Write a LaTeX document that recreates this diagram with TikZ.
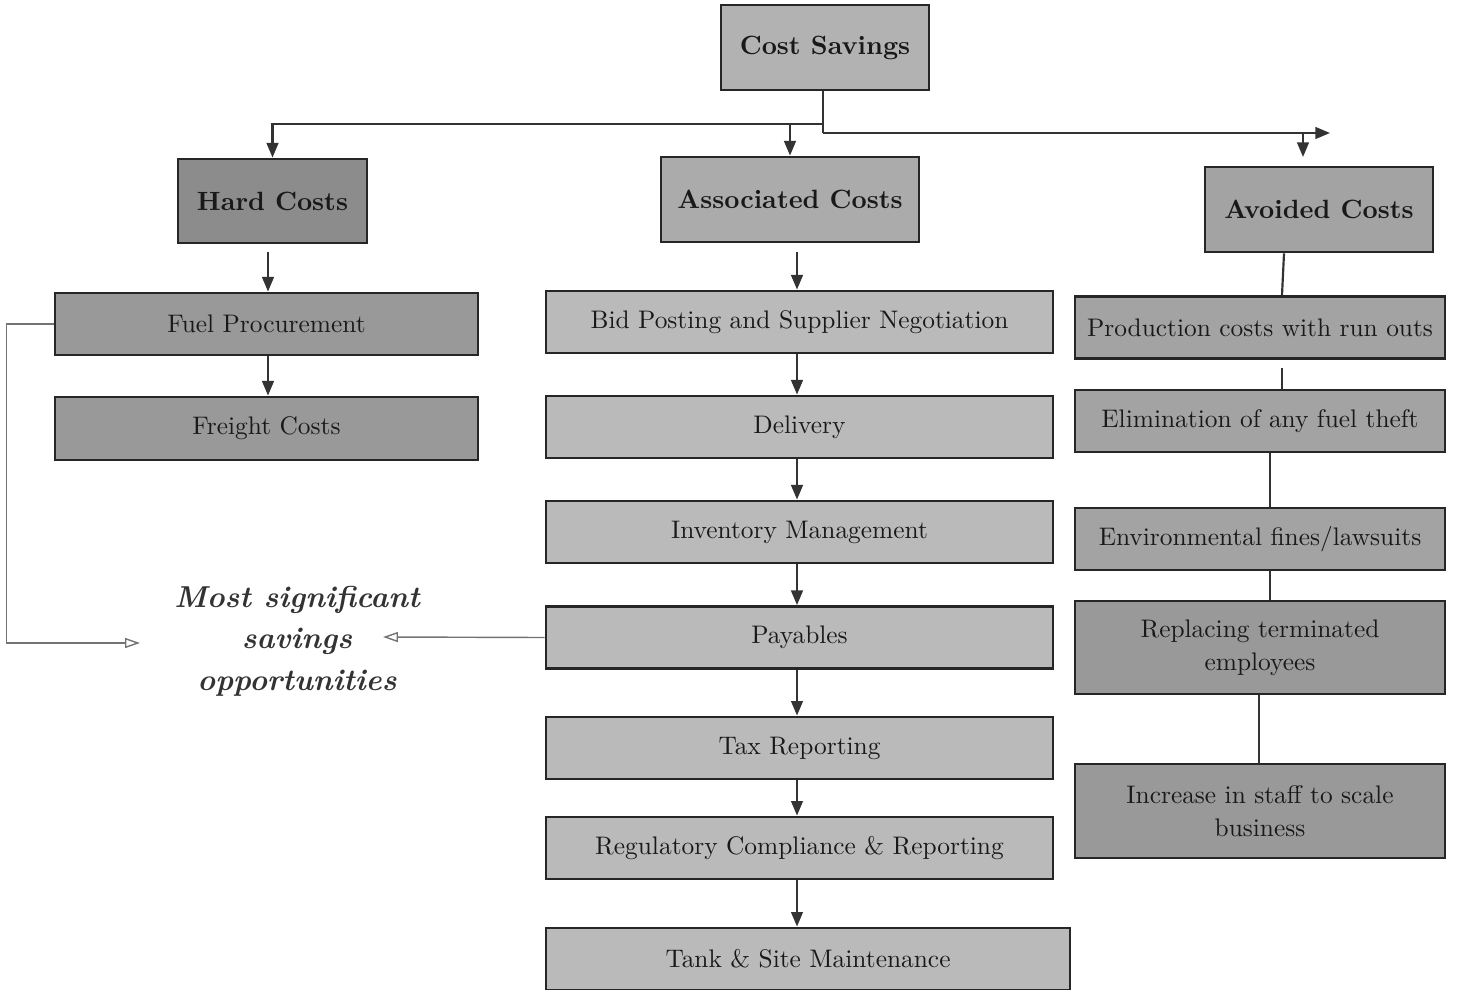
\documentclass[tikz,border=0pt]{standalone}
\usetikzlibrary{arrows.meta}
\newdimen\pxu
\pxu=0.0137cm
\begin{document}
\begin{tikzpicture}[x=0.0137cm,y=-0.0137cm,
  box/.style={draw=black!85, line width=1.1pt, rectangle, inner sep=0pt, align=center,
    text=black!90, font=\fontsize{9.9pt}{12.9pt}\selectfont},
  head/.style={box, font=\fontsize{10.3pt}{13pt}\selectfont\bfseries},
  arr/.style={draw=black!80, line width=0.85pt, -{Triangle[width=0.16cm,length=0.2cm]}},
  ln/.style={draw=black!80, line width=0.85pt},
  fb/.style={draw=black!55, line width=0.55pt, -{Triangle[open,width=0.137cm,length=0.205cm]}},
  note/.style={align=center, text=black!80, font=\fontsize{11.8pt}{16.2pt}\selectfont\bfseries\itshape}]
\useasboundingbox (0,0) rectangle (1461,990);
% top
\node[head, fill=black!30, minimum width=208\pxu, minimum height=85\pxu] (cs) at (825,47.5) {Cost Savings};
\node[head, fill=black!45, minimum width=189\pxu, minimum height=84\pxu] (hard) at (272.5,201) {Hard Costs};
\node[head, fill=black!33, minimum width=258\pxu, minimum height=85\pxu] (assoc) at (790,199.5) {Associated Costs};
\node[head, fill=black!36, minimum width=228\pxu, minimum height=85\pxu] (avoid) at (1319,209.5) {Avoided Costs};
% hard column
\node[box, fill=black!40, minimum width=423\pxu, minimum height=62\pxu] (fuel) at (266.5,324) {Fuel Procurement};
\node[box, fill=black!40, minimum width=423\pxu, minimum height=63\pxu] (freight) at (266.5,428.5) {Freight Costs};
% associated column
\tikzset{mid/.style={box, fill=black!27, minimum width=507\pxu, minimum height=62\pxu}}
\node[mid] (bid) at (799.5,322) {Bid Posting and Supplier Negotiation};
\node[mid] (deliv) at (799.5,427) {Delivery};
\node[mid] (inv) at (799.5,532) {Inventory Management};
\node[mid] (pay) at (799.5,637.5) {Payables};
\node[mid] (tax) at (799.5,748) {Tax Reporting};
\node[mid] (reg) at (799.5,848) {Regulatory Compliance \& Reporting};
\node[mid, minimum width=524\pxu] (tank) at (808,959) {Tank \& Site Maintenance};
% avoided column
\tikzset{rgt/.style={box, fill=black!36, minimum width=370\pxu, minimum height=62\pxu}}
\node[rgt] (prod) at (1260,327.5) {Production costs with run outs};
\node[rgt] (elim) at (1260,421) {Elimination of any fuel theft};
\node[rgt] (env) at (1260,539) {Environmental fines/lawsuits};
\node[rgt, fill=black!40, minimum height=93\pxu] (repl) at (1260,647.5) {Replacing terminated\\employees};
\node[rgt, fill=black!40, minimum height=94\pxu] (incr) at (1260,811) {Increase in staff to scale\\business};
% note
\node[note] (msg) at (297,641) {Most significant\\savings\\opportunities};
% top connectors
\coordinate (jr) at (823,133);
\coordinate (rt) at (1330,133);
\coordinate (jl) at (823,124);
\coordinate (da) at (1303,133);
\coordinate (db) at (1303,157);
\draw[ln] (cs.south -| jr) -- (jr);
\draw[arr] (jr) -- (rt);
\draw[arr] (jl) -| (hard.north);
\draw[arr] (assoc.north |- jl) -- (assoc.north);
\draw[arr] (da) -- (db);
% hard column connectors
\coordinate (h1) at (268,252);
\draw[arr] (h1) -- (h1 |- fuel.north);
\draw[arr] (h1 |- fuel.south) -- (h1 |- freight.north);
% middle connectors
\coordinate (m1) at (797,252);
\draw[arr] (m1) -- (m1 |- bid.north);
\draw[arr] (m1 |- bid.south) -- (m1 |- deliv.north);
\draw[arr] (m1 |- deliv.south) -- (m1 |- inv.north);
\draw[arr] (m1 |- inv.south) -- (m1 |- pay.north);
\draw[arr] (m1 |- pay.south) -- (m1 |- tax.north);
\draw[arr] (m1 |- tax.south) -- (m1 |- reg.north);
\draw[arr] (m1 |- reg.south) -- (m1 |- tank.north);
% right connectors
\coordinate (r1) at (1284,252);
\coordinate (r2) at (1282,368);
\coordinate (r3) at (1270,452);
\coordinate (r4) at (1259,694);
\draw[ln] (avoid.south -| r1) -- (prod.north -| r2);
\draw[ln] (r2) -- (r2 |- elim.north);
\draw[ln] (r3 |- elim.south) -- (r3 |- env.north);
\draw[ln] (r3 |- env.south) -- (r3 |- repl.north);
\draw[ln] (r4 |- repl.south) -- (r4 |- incr.north);
% feedback arrows
\coordinate (fl) at (140,643);
\coordinate (fr) at (383,637);
\draw[fb] (fuel.west) -- ++(-47,0) |- (fl);
\draw[fb] (pay.west) -- (fr);
\end{tikzpicture}
\end{document}
